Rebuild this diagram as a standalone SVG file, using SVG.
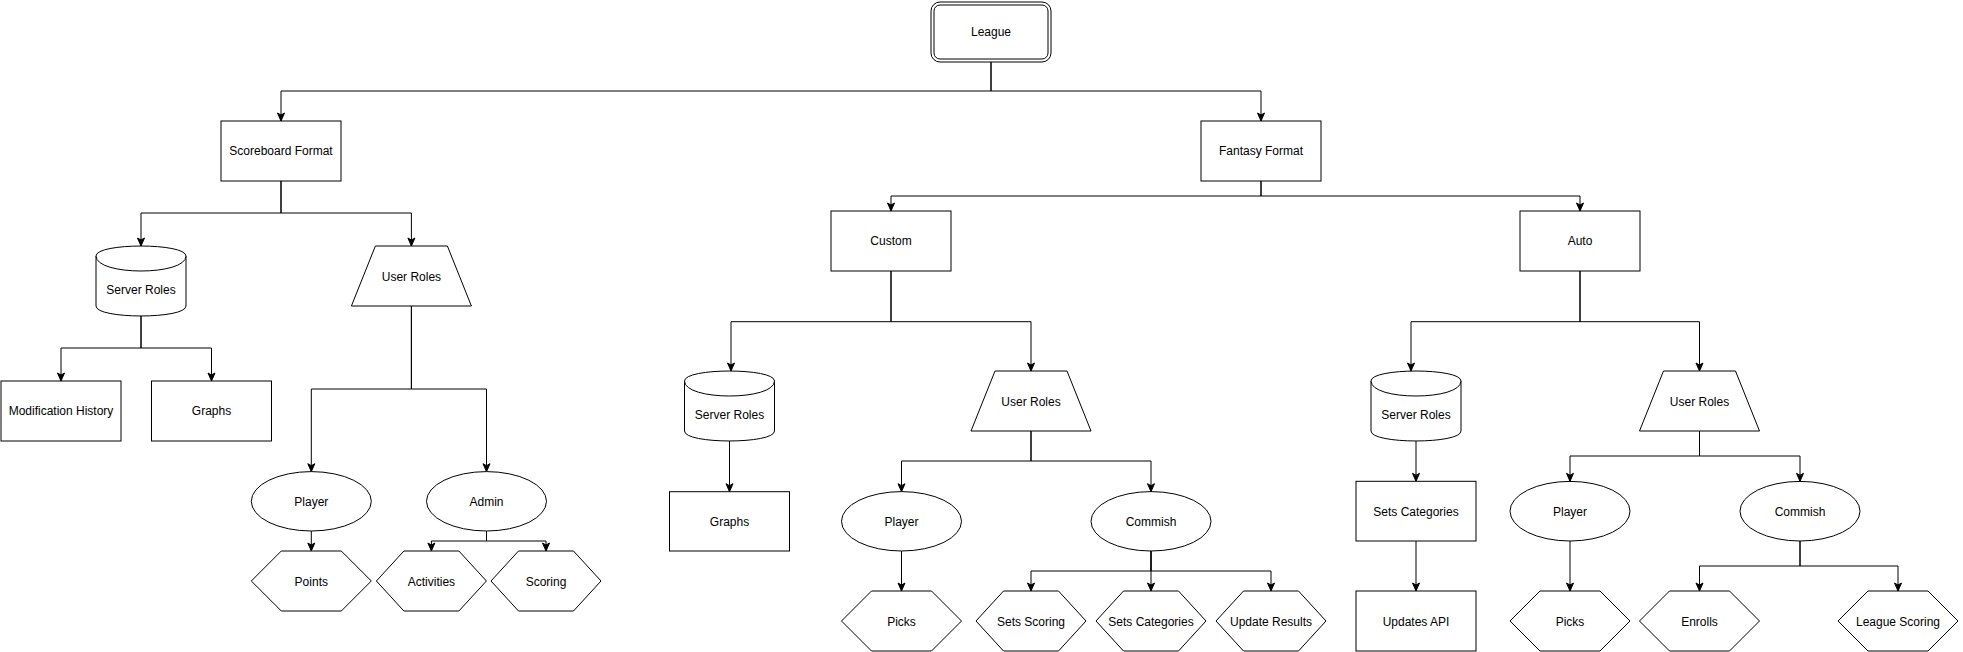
<svg xmlns="http://www.w3.org/2000/svg" width="1963" height="652" viewBox="0 0 1963 652">
<defs>
<style>
.n{fill:#fff;stroke:#000;stroke-width:1}
.t{font-family:"Liberation Sans",Helvetica,Arial,sans-serif;font-size:12px;fill:#000;text-anchor:middle;dominant-baseline:central}
.c{fill:none;stroke:#000;stroke-width:1;marker-end:url(#arr)}
</style>
<marker id="arr" markerUnits="userSpaceOnUse" markerWidth="10" markerHeight="10" refX="8" refY="4" orient="auto" overflow="visible">
<path d="M0,0.5 L8,4 L0,7.5 L2,4 Z" fill="#000" stroke="#000" stroke-width="1"/>
</marker>
</defs>
<rect width="1963" height="652" fill="#fff"/>
<g id="connectors">
<path class="c" d="M991,62 V91 H281 V121"/>
<path class="c" d="M991,62 V91 H1261 V121"/>
<path class="c" d="M281,181 V213 H141 V246"/>
<path class="c" d="M281,181 V213 H411.4 V246"/>
<path class="c" d="M141,316 V348 H61 V381"/>
<path class="c" d="M141,316 V348 H211.5 V381"/>
<path class="c" d="M411.4,306 V389 H311.3 V471.7"/>
<path class="c" d="M411.4,306 V389 H486.5 V471.7"/>
<path class="c" d="M311.3,531 V551"/>
<path class="c" d="M486.5,531 V541 H431.4 V551"/>
<path class="c" d="M486.5,531 V541 H546 V551"/>
<path class="c" d="M1261,181 V196 H891 V211"/>
<path class="c" d="M1261,181 V196 H1580 V211"/>
<path class="c" d="M891,271 V321.7 H731 V371"/>
<path class="c" d="M891,271 V321.7 H1031 V371"/>
<path class="c" d="M729.5,441 V491.7"/>
<path class="c" d="M1031,431 V461 H901.5 V491.7"/>
<path class="c" d="M1031,431 V461 H1151 V491.7"/>
<path class="c" d="M901.5,551 V591"/>
<path class="c" d="M1151,551 V571 H1031 V591"/>
<path class="c" d="M1151,551 V591"/>
<path class="c" d="M1151,551 V571 H1271 V591"/>
<path class="c" d="M1580,271 V321.7 H1411 V371"/>
<path class="c" d="M1580,271 V321.7 H1699.5 V371"/>
<path class="c" d="M1416,441 V481.3"/>
<path class="c" d="M1416,541 V591"/>
<path class="c" d="M1699.5,431 V456 H1570 V481.3"/>
<path class="c" d="M1699.5,431 V456 H1800 V481.3"/>
<path class="c" d="M1570,541 V591"/>
<path class="c" d="M1800,541 V566 H1699.5 V591"/>
<path class="c" d="M1800,541 V566 H1898 V591"/>
</g>
<g id="league">
<rect class="n" x="931" y="2" width="120" height="60" rx="9"/>
<rect class="n" x="934" y="5" width="114" height="54" rx="6"/>
<text class="t" x="991" y="32">League</text>
</g>
<g id="scoreboard-format">
<rect class="n" x="221" y="121" width="120" height="60"/>
<text class="t" x="281" y="151">Scoreboard Format</text>
</g>
<g id="fantasy-format">
<rect class="n" x="1201" y="121" width="120" height="60"/>
<text class="t" x="1261" y="151">Fantasy Format</text>
</g>
<g id="custom">
<rect class="n" x="831" y="211" width="120" height="60"/>
<text class="t" x="891" y="241">Custom</text>
</g>
<g id="auto">
<rect class="n" x="1520" y="211" width="120" height="60"/>
<text class="t" x="1580" y="241">Auto</text>
</g>
<g id="server-roles-1">
<path class="n" d="M96,256 C96,242.7 186,242.7 186,256 L186,306 C186,319.3 96,319.3 96,306 Z"/>
<path class="n" d="M96,256 C96,276 186,276 186,256" fill="none"/>
<text class="t" x="141" y="290">Server Roles</text>
</g>
<g id="server-roles-2">
<path class="n" d="M684.5,381 C684.5,367.7 774.5,367.7 774.5,381 L774.5,431 C774.5,444.3 684.5,444.3 684.5,431 Z"/>
<path class="n" d="M684.5,381 C684.5,401 774.5,401 774.5,381" fill="none"/>
<text class="t" x="729.5" y="415">Server Roles</text>
</g>
<g id="server-roles-3">
<path class="n" d="M1371,381 C1371,367.7 1461,367.7 1461,381 L1461,431 C1461,444.3 1371,444.3 1371,431 Z"/>
<path class="n" d="M1371,381 C1371,401 1461,401 1461,381" fill="none"/>
<text class="t" x="1416" y="415">Server Roles</text>
</g>
<g id="modification-history">
<rect class="n" x="1" y="381" width="120" height="60"/>
<text class="t" x="61" y="411">Modification History</text>
</g>
<g id="graphs-1">
<rect class="n" x="151.5" y="381" width="120" height="60"/>
<text class="t" x="211.5" y="411">Graphs</text>
</g>
<g id="user-roles-1">
<polygon class="n" points="375.4,246 447.4,246 471.4,306 351.4,306"/>
<text class="t" x="411.4" y="277">User Roles</text>
</g>
<g id="user-roles-2">
<polygon class="n" points="995,371 1067,371 1091,431 971,431"/>
<text class="t" x="1031" y="402">User Roles</text>
</g>
<g id="user-roles-3">
<polygon class="n" points="1663.5,371 1735.5,371 1759.5,431 1639.5,431"/>
<text class="t" x="1699.5" y="402">User Roles</text>
</g>
<g id="player-1">
<ellipse class="n" cx="311.3" cy="501.3" rx="60" ry="29.7"/>
<text class="t" x="311.3" y="502">Player</text>
</g>
<g id="admin">
<ellipse class="n" cx="486.5" cy="501.3" rx="60" ry="29.7"/>
<text class="t" x="486.5" y="502">Admin</text>
</g>
<g id="points">
<polygon class="n" points="251.3,581 281.3,551 341.3,551 371.3,581 341.3,611 281.3,611"/>
<text class="t" x="311.3" y="582">Points</text>
</g>
<g id="activities">
<polygon class="n" points="376.4,581 403.9,551 458.9,551 486.4,581 458.9,611 403.9,611"/>
<text class="t" x="431.4" y="582">Activities</text>
</g>
<g id="scoring">
<polygon class="n" points="491,581 518.5,551 573.5,551 601,581 573.5,611 518.5,611"/>
<text class="t" x="546" y="582">Scoring</text>
</g>
<g id="graphs-2">
<rect class="n" x="669.5" y="491.7" width="120" height="59.3"/>
<text class="t" x="729.5" y="522">Graphs</text>
</g>
<g id="player-2">
<ellipse class="n" cx="901.5" cy="521.3" rx="60" ry="29.7"/>
<text class="t" x="901.5" y="522">Player</text>
</g>
<g id="commish-2">
<ellipse class="n" cx="1151" cy="521.3" rx="60" ry="29.7"/>
<text class="t" x="1151" y="522">Commish</text>
</g>
<g id="picks-2">
<polygon class="n" points="841.5,621 871.5,591 931.5,591 961.5,621 931.5,651 871.5,651"/>
<text class="t" x="901.5" y="622">Picks</text>
</g>
<g id="sets-scoring">
<polygon class="n" points="976,621 1003.5,591 1058.5,591 1086,621 1058.5,651 1003.5,651"/>
<text class="t" x="1031" y="622">Sets Scoring</text>
</g>
<g id="sets-categories-hex">
<polygon class="n" points="1096,621 1123.5,591 1178.5,591 1206,621 1178.5,651 1123.5,651"/>
<text class="t" x="1151" y="622">Sets Categories</text>
</g>
<g id="update-results">
<polygon class="n" points="1216,621 1243.5,591 1298.5,591 1326,621 1298.5,651 1243.5,651"/>
<text class="t" x="1271" y="622">Update Results</text>
</g>
<g id="sets-categories-box">
<rect class="n" x="1356" y="481.3" width="120" height="59.7"/>
<text class="t" x="1416" y="512">Sets Categories</text>
</g>
<g id="updates-api">
<rect class="n" x="1356" y="591" width="120" height="60"/>
<text class="t" x="1416" y="622">Updates API</text>
</g>
<g id="player-3">
<ellipse class="n" cx="1570" cy="511.2" rx="60" ry="29.8"/>
<text class="t" x="1570" y="512">Player</text>
</g>
<g id="commish-3">
<ellipse class="n" cx="1800" cy="511.2" rx="60" ry="29.8"/>
<text class="t" x="1800" y="512">Commish</text>
</g>
<g id="picks-3">
<polygon class="n" points="1510,621 1540,591 1600,591 1630,621 1600,651 1540,651"/>
<text class="t" x="1570" y="622">Picks</text>
</g>
<g id="enrolls">
<polygon class="n" points="1639.5,621 1669.5,591 1729.5,591 1759.5,621 1729.5,651 1669.5,651"/>
<text class="t" x="1699.5" y="622">Enrolls</text>
</g>
<g id="league-scoring">
<polygon class="n" points="1838,621 1868,591 1928,591 1958,621 1928,651 1868,651"/>
<text class="t" x="1898" y="622">League Scoring</text>
</g>
</svg>
